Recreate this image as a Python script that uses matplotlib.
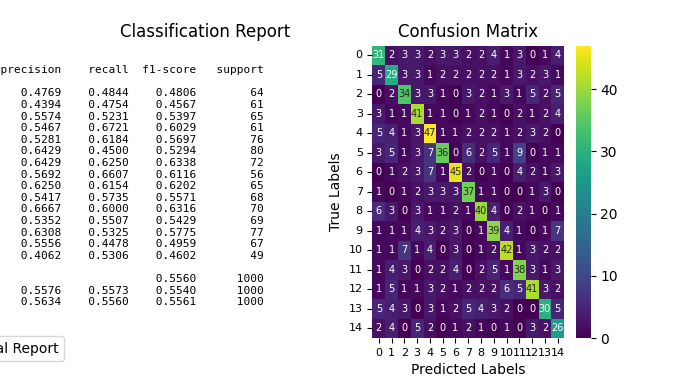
import numpy as np
import seaborn as sns
from matplotlib import pyplot as plt
from matplotlib.lines import Line2D

labels = [str(i) for i in range(15)]
precision = [0.4769, 0.4394, 0.5574, 0.5467, 0.5281, 0.6429, 0.6429, 0.5692,
             0.6250, 0.5417, 0.6667, 0.5352, 0.6308, 0.5556, 0.4062]
recall = [0.4844, 0.4754, 0.5231, 0.6721, 0.6184, 0.4500, 0.6250, 0.6607,
          0.6154, 0.5735, 0.6000, 0.5507, 0.5325, 0.4478, 0.5306]
f1 = [0.4806, 0.4567, 0.5397, 0.6029, 0.5697, 0.5294, 0.6338, 0.6116,
      0.6202, 0.5571, 0.6316, 0.5429, 0.5775, 0.4959, 0.4602]
support = [64, 61, 65, 61, 76, 80, 72, 56, 65, 68, 70, 69, 77, 67, 49]
accuracy = 0.5560
macro_avg = [0.5576, 0.5573, 0.5540]
weighted_avg = [0.5634, 0.5560, 0.5561]
total = 1000

cm = np.array([
    [31, 2, 3, 3, 2, 3, 3, 2, 2, 4, 1, 3, 0, 1, 4],
    [5, 29, 3, 3, 1, 2, 2, 2, 2, 2, 1, 3, 2, 3, 1],
    [0, 2, 34, 3, 3, 1, 0, 3, 2, 1, 3, 1, 5, 2, 5],
    [3, 1, 1, 41, 1, 1, 0, 1, 2, 1, 0, 2, 1, 2, 4],
    [5, 4, 1, 3, 47, 1, 1, 2, 2, 2, 1, 2, 3, 2, 0],
    [3, 5, 1, 3, 7, 36, 0, 6, 2, 5, 1, 9, 0, 1, 1],
    [0, 1, 2, 3, 7, 1, 45, 2, 0, 1, 0, 4, 2, 1, 3],
    [1, 0, 1, 2, 3, 3, 3, 37, 1, 1, 0, 0, 1, 3, 0],
    [6, 3, 0, 3, 1, 1, 2, 1, 40, 4, 0, 2, 1, 0, 1],
    [1, 1, 1, 4, 3, 2, 3, 0, 1, 39, 4, 1, 0, 1, 7],
    [1, 1, 7, 1, 4, 0, 3, 0, 1, 2, 42, 1, 3, 2, 2],
    [1, 4, 3, 0, 2, 2, 4, 0, 2, 5, 1, 38, 3, 1, 3],
    [1, 5, 1, 1, 3, 2, 1, 2, 2, 2, 6, 5, 41, 3, 2],
    [5, 4, 3, 0, 3, 1, 2, 5, 4, 3, 2, 0, 0, 30, 5],
    [2, 4, 0, 5, 2, 0, 1, 2, 1, 0, 1, 0, 3, 2, 26],
])

# build a sklearn-style text report
w = 12
report = '{:>{w}s} '.format('', w=w) + ''.join(' {:>9}'.format(h) for h in
                                             ['precision', 'recall', 'f1-score', 'support']) + '\n\n'
for lab, p, r, f, s in zip(labels, precision, recall, f1, support):
    report += '{:>{w}s}  {:>9.4f} {:>9.4f} {:>9.4f} {:>9}\n'.format(lab, p, r, f, s, w=w)
report += '\n'
report += '{:>{w}s}  {:>9} {:>9} {:>9.4f} {:>9}\n'.format('accuracy', '', '', accuracy, total, w=w)
report += '{:>{w}s}  {:>9.4f} {:>9.4f} {:>9.4f} {:>9}\n'.format('macro avg', *macro_avg, total, w=w)
report += '{:>{w}s}  {:>9.4f} {:>9.4f} {:>9.4f} {:>9}\n'.format('weighted avg', *weighted_avg, total, w=w)

fig, (ax1, ax2) = plt.subplots(1, 2, figsize=(6.8, 3.8), dpi=100)

ax1.text(0.0, 0.5, report, fontsize=8, family='DejaVu Sans Mono', ha='center', va='center',
         transform=ax1.transAxes)
ax1.axis('off')
ax1.set_title('Classification Report')
ax1.legend(handles=[Line2D([], [], linestyle='none')], labels=['Final Report'],
           loc='upper right', bbox_to_anchor=(0.0941, 0.1158), bbox_transform=fig.transFigure,
           borderaxespad=0)

sns.heatmap(cm, annot=True, fmt='d', cmap='viridis', ax=ax2, annot_kws={'size': 7},
            xticklabels=labels, yticklabels=labels)
ax2.set_title('Confusion Matrix')
ax2.set_xlabel('Predicted Labels')
ax2.set_ylabel('True Labels')
ax2.tick_params(labelsize=8)
ax2.set_yticklabels(labels, rotation=0)
ax2.set_xticklabels(labels, rotation=0)

plt.savefig('out.png')
